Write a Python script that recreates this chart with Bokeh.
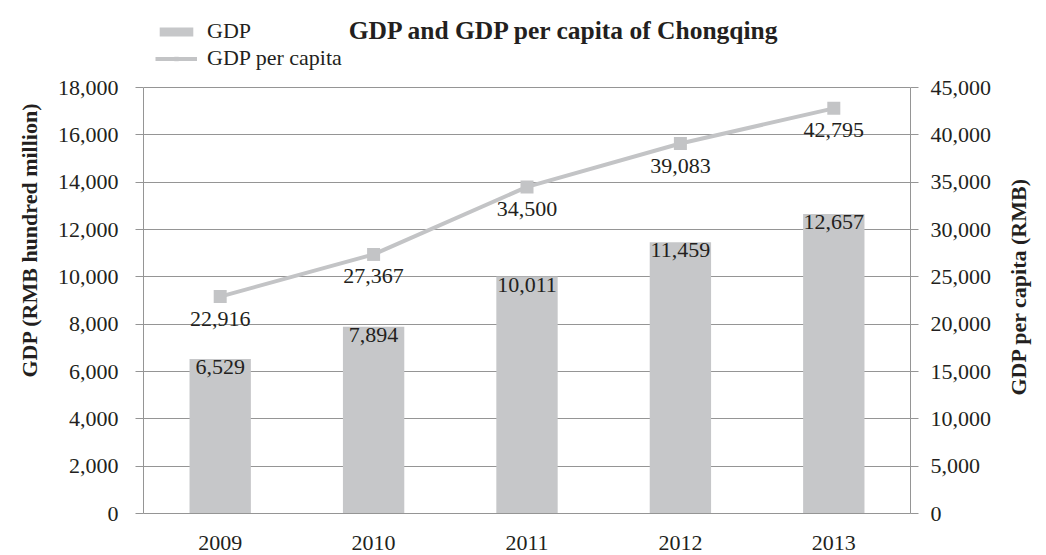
import math
from bokeh.plotting import figure
from bokeh.models import (ColumnDataSource, Range1d, LinearAxis, FactorRange, LabelSet,
                          Legend, LegendItem, NumeralTickFormatter, FixedTicker, Label, Title)
from bokeh.embed import file_html
from bokeh.resources import INLINE

years = ["2009", "2010", "2011", "2012", "2013"]
gdp = [6529, 7894, 10011, 11459, 12657]
gdp_per_capita = [22916, 27367, 34500, 39083, 42795]
gdp_labels = ["6,529", "7,894", "10,011", "11,459", "12,657"]
pc_labels = ["22,916", "27,367", "34,500", "39,083", "42,795"]
left_ticks = list(range(0, 18001, 2000))
right_ticks = list(range(0, 45001, 5000))

FONT = "Liberation Serif"
GRID = "#959595"
BAR = "#c6c7c9"
TXT = "#231f20"

# frame runs to the top of the canvas so the title and legend can sit inside it
FRAME_H = 513
PLOT_H = 426
YMAX = 18000
Y2MAX = 45000
ytop = YMAX * FRAME_H / PLOT_H
y2top = Y2MAX * FRAME_H / PLOT_H
RIGHT_TITLE_AT = 12465  # where the right axis title starts (right-axis units)

src = ColumnDataSource(dict(years=years, gdp=gdp, pc=gdp_per_capita,
                            gl=gdp_labels, pl=pc_labels))

p = figure(width=1046, height=555, x_range=FactorRange(*years, range_padding=0),
           y_range=Range1d(0, ytop), output_backend="svg", toolbar_location=None,
           min_border_left=143, min_border_right=133, min_border_top=0, min_border_bottom=42)
p.outline_line_color = None
p.extra_y_ranges = {"pc": Range1d(0, y2top)}

p.xgrid.grid_line_color = None
p.ygrid.grid_line_color = GRID
p.ygrid.grid_line_width = 1
p.ygrid.ticker = FixedTicker(ticks=left_ticks)

bars = p.vbar(x="years", top="gdp", width=0.4, source=src, fill_color=BAR, line_color=None)
line = p.line(x="years", y="pc", source=src, y_range_name="pc", line_color="#c3c4c6", line_width=4)
pts = p.scatter(x="years", y="pc", source=src, y_range_name="pc", marker="square", size=13,
                fill_color="#c3c4c6", line_color=None)

ax = p.yaxis[0]
ax.ticker = FixedTicker(ticks=left_ticks)
ax.formatter = NumeralTickFormatter(format="0,0")
ax.bounds = (0, YMAX)

rax = LinearAxis(y_range_name="pc", ticker=FixedTicker(ticks=right_ticks),
                 formatter=NumeralTickFormatter(format="0,0"), bounds=(0, Y2MAX))
p.add_layout(rax, "right")

for a in [ax, rax]:
    a.axis_line_color = GRID
    a.major_tick_line_color = GRID
    a.major_tick_out = 8
    a.major_tick_in = 0
    a.minor_tick_line_color = None
    a.major_label_text_font = FONT
    a.major_label_text_font_size = "22px"
    a.major_label_text_color = TXT
ax.major_label_standoff = 17
rax.major_label_standoff = 12

# right axis title: drawn by a bare axis so it can sit where the reference has it
rtitle = LinearAxis(y_range_name="pc", ticker=FixedTicker(ticks=[RIGHT_TITLE_AT]),
                    major_label_overrides={RIGHT_TITLE_AT: "GDP per capita (RMB)"},
                    major_label_orientation=math.pi / 2,
                    axis_line_color=None, major_tick_line_color=None, minor_tick_line_color=None,
                    major_tick_out=0, major_tick_in=0, major_label_standoff=24,
                    major_label_text_font=FONT, major_label_text_font_size="22px",
                    major_label_text_font_style="bold", major_label_text_color=TXT)
p.add_layout(rtitle, "right")

p.add_layout(Title(text="GDP (RMB hundred million)", align="left", offset=136,
                   text_font=FONT, text_font_size="22px", text_font_style="bold",
                   text_color=TXT, standoff=25), "left")

xa = p.xaxis[0]
xa.axis_line_color = GRID
xa.major_tick_line_color = None
xa.minor_tick_line_color = None
xa.major_label_text_font = FONT
xa.major_label_text_font_size = "22px"
xa.major_label_text_color = TXT
xa.major_label_standoff = 16

# data labels
p.add_layout(LabelSet(x="years", y="gdp", text="gl", source=src, text_font=FONT,
                      text_font_size="22px", text_color=TXT, text_align="center",
                      text_baseline="top", y_offset=-1))
p.add_layout(LabelSet(x="years", y="pc", text="pl", source=src, y_range_name="pc",
                      text_font=FONT, text_font_size="22px", text_color=TXT,
                      text_align="center", text_baseline="top", y_offset=-15))

legend = Legend(items=[LegendItem(label="GDP", renderers=[bars]),
                       LegendItem(label="GDP per capita", renderers=[line, pts])],
                location=(12, 442), orientation="vertical",
                label_text_font=FONT, label_text_font_size="22px", label_text_color=TXT,
                glyph_width=42, glyph_height=11, label_height=22, label_standoff=10, spacing=1,
                padding=0, margin=0, border_line_color=None, background_fill_alpha=0)
p.add_layout(legend, "center")

p.add_layout(Label(x=2.746, y=20408, text="GDP and GDP per capita of Chongqing",
                   text_font=FONT, text_font_size="25.5px", text_font_style="bold",
                   text_color=TXT, text_align="center", text_baseline="middle"))

open("out.html", "w").write(file_html(p, INLINE))
